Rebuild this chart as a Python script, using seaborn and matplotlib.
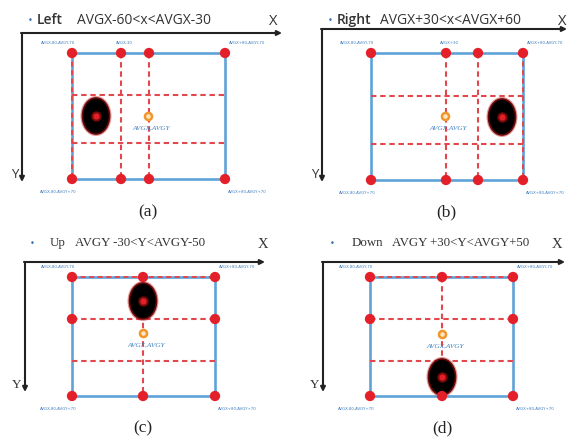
import numpy as np
import pandas as pd
import seaborn as sns
import matplotlib.pyplot as plt
from matplotlib.patches import Ellipse

# panel texts
panel_labels = ['(a)', '(b)', '(c)', '(d)']
directions = ['Left', 'Right', 'Up', 'Down']
conditions = ['AVGX-60<x<AVGX-30', 'AVGX+30<x<AVGX+60',
              'AVGY -30<Y<AVGY-50', 'AVGY +30<Y<AVGY+50']
mid_labels = ['AVGX-30', 'AVGX+30', None, None]

# geometry of each panel (image pixels)
rect_left = [72, 371, 72, 370]
rect_right = [225, 523, 215, 513]
rect_top = [53, 53, 277, 277]
rect_bottom = [179, 180, 396, 396]
vlines_x = [[121, 149], [446, 478], [143], [442]]
hlines_y = [[95, 143], [96, 144], [319, 361], [319, 361]]
dashed_edge = ['left', 'right', 'top', 'top']
orange_x = [148, 445, 143, 442]
orange_y = [116, 116, 333, 334]
ball_x = [96, 502, 143, 442]
ball_y = [116, 117, 301, 377]

origin_x = [22, 322, 25, 323]
origin_y = [33, 29, 262, 262]
xaxis_end = [282, 567, 265, 565]
yaxis_end = [182, 182, 392, 392]
title_y = [20, 20, 243, 243]
bullet_x = [30, 330, 32, 332]
dir_x = [37, 337, 50, 352]
cond_x = [77, 380, 75, 392]
xlab_x = [273, 562, 263, 557]
label_x = [148, 446, 143, 442]
label_y = [212, 212, 428, 428]

blue = '#5fa2d8'
red = '#e3202a'
dash_red = '#e2474d'
orange = '#f0962a'

sns.set_theme(style='white')
fig = plt.figure(figsize=(5.67, 4.43), dpi=100)
ax = fig.add_axes([0, 0, 1, 1])

dots = []
for i in range(4):
    L, R, T, B = rect_left[i], rect_right[i], rect_top[i], rect_bottom[i]
    sans = ['Open Sans', 'DejaVu Sans']
    serif = ['Liberation Serif', 'DejaVu Serif']
    tfam = sans if i < 2 else serif
    tsize = 10 if i < 2 else 9.3

    # coordinate axes
    ax.annotate('', xy=(xaxis_end[i], origin_y[i]), xytext=(origin_x[i] - 1, origin_y[i]),
                arrowprops=dict(arrowstyle='-|>', color='#222222', lw=1.5,
                                mutation_scale=7, shrinkA=0, shrinkB=0))
    ax.annotate('', xy=(origin_x[i], yaxis_end[i]), xytext=(origin_x[i], origin_y[i]),
                arrowprops=dict(arrowstyle='-|>', color='#222222', lw=1.5,
                                mutation_scale=7, shrinkA=0, shrinkB=0))
    ax.text(xlab_x[i], title_y[i] + 1, 'X', fontsize=10.5, family=tfam,
            ha='center', va='center', color='#333333')
    ax.text(origin_x[i] - 4, yaxis_end[i] - 7, 'Y', fontsize=9.5, family=tfam,
            ha='right', va='center', color='#333333')

    # title
    ax.text(bullet_x[i], title_y[i], '•', fontsize=6, color='#3a6fb0', ha='center', va='center')
    ax.text(dir_x[i], title_y[i], directions[i], fontsize=tsize, family=tfam,
            weight='semibold' if i < 2 else 'normal',
            ha='left', va='center', color='#333333')
    ax.text(cond_x[i], title_y[i], conditions[i], fontsize=tsize, family=tfam,
            ha='left', va='center', color='#333333')

    # rectangle
    ax.plot([L, R, R, L, L], [T, T, B, B, T], color=blue, lw=1.9, zorder=2)
    edges = {'left': ([L, L], [T, B]), 'right': ([R, R], [T, B]), 'top': ([L, R], [T, T])}
    ex, ey = edges[dashed_edge[i]]
    ax.plot(ex, ey, color=dash_red, lw=1.4, ls=(0, (2.6, 1.8)), zorder=3)

    # dashed grid
    for vx in vlines_x[i]:
        ax.plot([vx, vx], [T, B], color=dash_red, lw=1.5, ls=(0, (2.6, 1.8)), zorder=3)
        dots += [(vx, T), (vx, B)]
    for hy in hlines_y[i]:
        ax.plot([L, R], [hy, hy], color=dash_red, lw=1.5, ls=(0, (2.6, 1.8)), zorder=3)
    if i >= 2:
        dots += [(L, hlines_y[i][0]), (R, hlines_y[i][0])]
    dots += [(L, T), (R, T), (L, B), (R, B)]

    # corner labels
    lab = dict(fontsize=2.8, color='#3f7fc0', ha='center', va='center')
    ax.text(L - 14, T - 10, 'AVGX-80,AVGY-70', **lab)
    ax.text(R + 22, T - 10, 'AVGX+80,AVGY-70', **lab)
    ax.text(L - 14, B + 13, 'AVGX-80,AVGY+70', **lab)
    ax.text(R + 22, B + 13, 'AVGX+80,AVGY+70', **lab)
    if mid_labels[i]:
        ax.text(vlines_x[i][0] + 3, T - 10, mid_labels[i], **lab)

    # average point
    ax.scatter(orange_x[i], orange_y[i], s=26, facecolor='#fde6c6', edgecolor=orange,
               linewidth=1.8, zorder=5)
    ax.text(orange_x[i] + 3, orange_y[i] + 12, 'AVGX,AVGY', fontsize=5.2, family='Liberation Serif',
            style='italic', color='#3f7fc0', ha='center', va='center', zorder=5)

    # target ball
    ax.add_patch(Ellipse((ball_x[i], ball_y[i]), 31, 40, facecolor='#c02020',
                         edgecolor='none', alpha=0.45, zorder=5))
    ax.add_patch(Ellipse((ball_x[i], ball_y[i]), 27, 36, facecolor='black',
                         edgecolor='#6a0808', lw=1.2, zorder=6))
    ax.scatter(ball_x[i], ball_y[i], s=55, color='#7a0a0a', zorder=7, linewidth=0)
    ax.scatter(ball_x[i], ball_y[i], s=20, color=red, zorder=7, linewidth=0)

    ax.text(label_x[i], label_y[i], panel_labels[i], fontsize=12.5,
            family='Liberation Serif', ha='center', va='center', color='#222222')

dot_df = pd.DataFrame(dots, columns=['x', 'y'])
sns.scatterplot(data=dot_df, x='x', y='y', ax=ax, s=55, color=red,
                edgecolor='none', zorder=8, legend=False)
ax.set_xlim(0, 567)
ax.set_ylim(443, 0)
ax.axis('off')

plt.savefig('out.png', dpi=100)
